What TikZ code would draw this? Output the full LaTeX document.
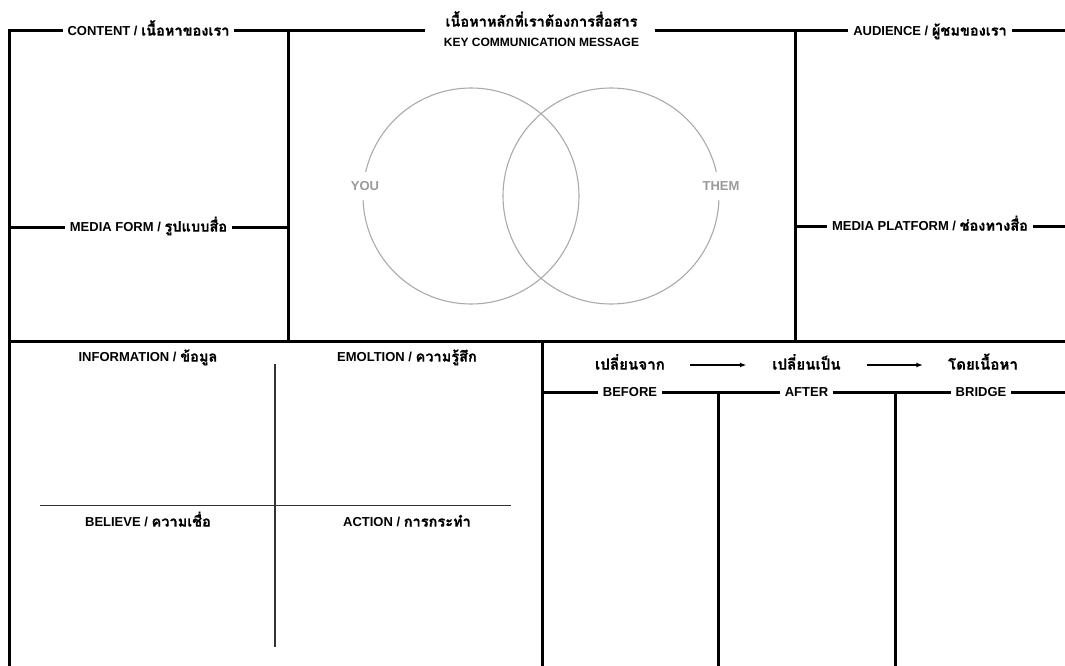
\documentclass[tikz,border=0pt]{standalone}
\usepackage{fontspec}
\setmainfont{Liberation Sans}
\newfontfamily\thaifont{Loma}[Script=Thai, Scale=1.12, UprightFont={* Bold}, BoldFont={* Bold}, FakeBold=0.8]
\newcommand\tw[1]{{\thaifont #1}}
\usetikzlibrary{arrows.meta}
\definecolor{vennline}{HTML}{AAAAAA}
\definecolor{venntext}{HTML}{9A9A9A}
\definecolor{quadline}{HTML}{333333}

\begin{document}
\begin{tikzpicture}[x=1pt,y=-1pt,
  frame/.style={line width=3pt, line join=miter},
  quad/.style={line width=1.3pt, draw=quadline},
  vennc/.style={line width=1.1pt, draw=vennline},
  txt/.style={font=\fontsize{13}{15}\selectfont\bfseries, text height=9.3pt, text depth=0pt, inner ysep=0pt, inner xsep=0pt},
  lab/.style={txt, fill=white, inner xsep=5pt, inner ysep=2pt},
  head/.style={txt, font=\fontsize{13.5}{16}\selectfont\bfseries, minimum width=120pt},
  vlab/.style={txt, text=venntext, fill=white, inner xsep=2pt, inner ysep=9pt},
  arr/.style={line width=1.2pt, -{Latex[length=6.5pt,width=5pt]}}]

\fill[white] (0,0) rectangle (1065,666);
\useasboundingbox (0,0) rectangle (1065,666);

% outer frame and the top rule, broken for the title
\draw[frame] (9,666) -- (9,31) -- (425,31);
\draw[frame] (655,31) -- (1065,31);
% upper band: three columns
\draw[frame] (288,31) -- (288,341);
\draw[frame] (795,31) -- (795,341);
\draw[frame] (9,341) -- (1065,341);
\draw[frame] (9,227) -- (288,227);
\draw[frame] (795,226) -- (1065,226);
% lower band: before / after / bridge columns
\draw[frame] (542,341) -- (542,666);
\draw[frame] (542,392) -- (1065,392);
\draw[frame] (718,392) -- (718,666);
\draw[frame] (895,392) -- (895,666);

% quadrant cross
\draw[quad] (275,364) -- (275,647);
\draw[quad] (40,505.5) -- (511,505.5);

% venn diagram
\draw[vennc] (471,196) circle [radius=108pt];
\draw[vennc] (611,196) circle [radius=108pt];
\node[vlab] (you) at (365,186) {YOU};
\node[vlab] (them) at (721,186) {THEM};

% title
\node[txt, font=\fontsize{13}{16}\selectfont\bfseries] (title) at (541.5,22) {\tw{เนื้อหาหลักที่เราต้องการสื่อสาร}};
\node[txt, font=\fontsize{12}{14}\selectfont\bfseries, text height=8.6pt] (subtitle) at (541.5,42) {KEY COMMUNICATION MESSAGE};

% section labels on the rules
\node[lab] (content) at (148.5,31) {CONTENT / \tw{เนื้อหาของเรา}};
\node[lab] (audience) at (930,31) {AUDIENCE / \tw{ผู้ชมของเรา}};
\node[lab] (mform) at (148.5,227) {MEDIA FORM / \tw{รูปแบบสื่อ}};
\node[lab] (mplat) at (930,226) {MEDIA PLATFORM / \tw{ช่องทางสื่อ}};

% quadrant labels
\node[txt] (info) at (148,357) {INFORMATION / \tw{ข้อมูล}};
\node[txt] (emo) at (407,357) {EMOLTION / \tw{ความรู้สึก}};
\node[txt] (believe) at (148,522) {BELIEVE / \tw{ความเชื่อ}};
\node[txt] (action) at (407,522) {ACTION / \tw{การกระทำ}};

% change headings and arrows
\node[head] (from) at (630,365) {\tw{เปลี่ยนจาก}};
\node[head] (to) at (806.5,365) {\tw{เปลี่ยนเป็น}};
\node[head] (via) at (983,365) {\tw{โดยเนื้อหา}};
\draw[arr] (from) -- (to);
\draw[arr] (to) -- (via);

\node[lab] (before) at (630,392) {BEFORE};
\node[lab] (after) at (806.5,392) {AFTER};
\node[lab] (bridge) at (981,392) {BRIDGE};
\end{tikzpicture}
\end{document}
